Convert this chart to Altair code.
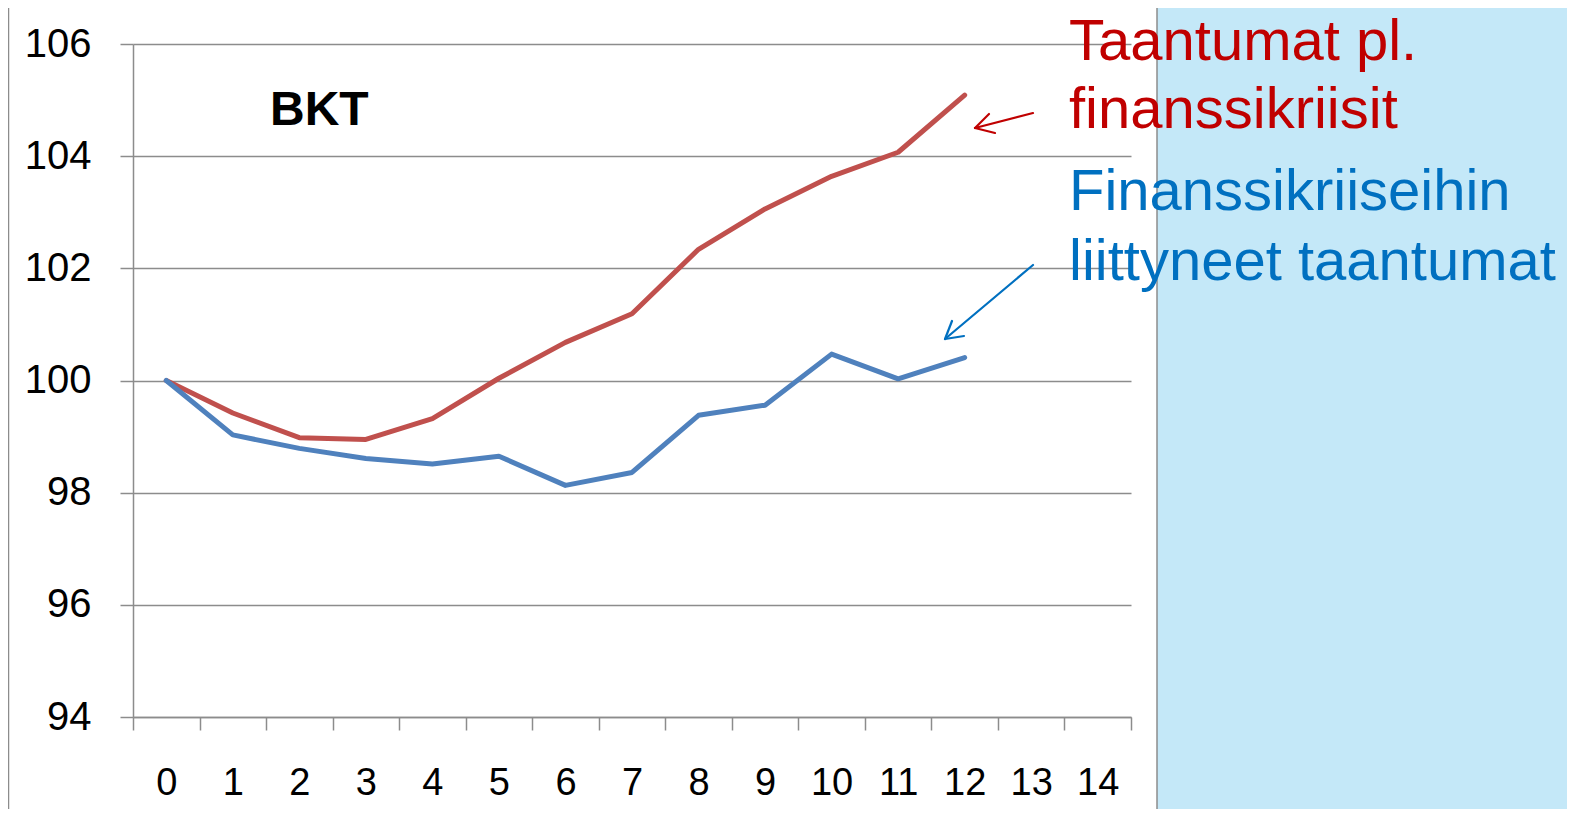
import altair as alt
import pandas as pd

# ---- data ----
periods = list(range(13))
all_periods = [str(i) for i in range(15)]
non_financial = [100, 99.42, 98.98, 98.95, 99.32, 100.04, 100.68, 101.19, 102.34, 103.06, 103.64, 104.07, 105.09]
financial = [100, 99.03, 98.79, 98.61, 98.51, 98.65, 98.13, 98.36, 99.38, 99.56, 100.47, 100.03, 100.41]
series_names = ["Taantumat pl. finanssikriisit", "Finanssikriiseihin liittyneet taantumat"]
series_colors = ["#C0504D", "#4F81BD"]
y_ticks = [94, 96, 98, 100, 102, 104, 106]
title_text = "BKT"
red_label = ["Taantumat pl.", "finanssikriisit"]
blue_label = ["Finanssikriiseihin", "liittyneet taantumat"]

rows = []
for p, v in zip(periods, non_financial):
    rows.append({"t": str(p), "value": v, "series": series_names[0]})
for p, v in zip(periods, financial):
    rows.append({"t": str(p), "value": v, "series": series_names[1]})
df = pd.DataFrame(rows)

W, H = 998, 673
GRID = "#8C8C8C"
FONT = "Liberation Sans"

lines = alt.Chart(df).mark_line(strokeWidth=5, strokeCap="round", strokeJoin="round").encode(
    x=alt.X("t:O", bandPosition=0.5,
            scale=alt.Scale(type="band", domain=all_periods, paddingInner=0, paddingOuter=0),
            axis=alt.Axis(title=None, labelAngle=0, tickBand="extent", tickSize=13,
                          labelFontSize=38, labelFont=FONT, labelColor="black",
                          labelPadding=34, tickColor=GRID, tickWidth=1.5,
                          domainColor=GRID, domainWidth=1.5, grid=False)),
    y=alt.Y("value:Q", scale=alt.Scale(domain=[94, 106], nice=False, zero=False),
            axis=alt.Axis(title=None, values=y_ticks, tickSize=13, labelFontSize=40,
                          labelFont=FONT, labelColor="black", labelPadding=29,
                          tickColor=GRID, tickWidth=1.5, domainColor=GRID, domainWidth=1.5,
                          grid=True, gridColor=GRID, gridWidth=1.5)),
    color=alt.Color("series:N", scale=alt.Scale(domain=series_names, range=series_colors), legend=None),
    detail="series:N",
)

one = pd.DataFrame({"k": [0]})

# light blue slide background on the right
bg = alt.Chart(one).mark_rect(color="#C4E8F8").encode(
    x=alt.value(1024), x2=alt.value(1440), y=alt.value(-40), y2=alt.value(770))
box_edge = alt.Chart(one).mark_rule(color="#8C8C8C", strokeWidth=1.5).encode(
    x=alt.value(1024), y=alt.value(-40), y2=alt.value(770))
left_edge = alt.Chart(one).mark_rule(color="#8C8C8C", strokeWidth=1.5).encode(
    x=alt.value(-124.5), y=alt.value(-40), y2=alt.value(770))

title = alt.Chart(one).mark_text(align="left", baseline="alphabetic", fontSize=48,
                                 fontWeight="bold", font=FONT, color="black").encode(
    x=alt.value(137), y=alt.value(81), text=alt.value(title_text))

red_txt = alt.Chart(one).mark_text(align="left", baseline="alphabetic", fontSize=58,
                                   font=FONT, color="#C00000", lineHeight=68).encode(
    x=alt.value(936), y=alt.value(16), text=alt.value(red_label))
blue_txt = alt.Chart(one).mark_text(align="left", baseline="alphabetic", fontSize=58,
                                    font=FONT, color="#0070C0", lineHeight=70).encode(
    x=alt.value(936), y=alt.value(166), text=alt.value(blue_label))

def seg(x1, y1, x2, y2, color):
    return alt.Chart(one).mark_rule(color=color, strokeWidth=2.2, strokeCap="round").encode(
        x=alt.value(x1), y=alt.value(y1), x2=alt.value(x2), y2=alt.value(y2))

arrows = [
    seg(900, 69, 842, 84, "#C00000"),
    seg(842, 84, 856, 70, "#C00000"),
    seg(842, 84, 862, 89, "#C00000"),
    seg(900, 221, 812, 295, "#0070C0"),
    seg(812, 295, 819, 277, "#0070C0"),
    seg(812, 295, 831, 292, "#0070C0"),
]

chart = alt.layer(bg, box_edge, left_edge, lines, title, red_txt, blue_txt, *arrows).properties(
    width=W, height=H,
    padding={"left": 125, "top": 36, "right": 436, "bottom": 92},
    autosize=alt.AutoSizeParams(type="none"),
    background="white",
).configure_view(stroke=None)

chart.save("out.html", embed_options={"renderer": "svg", "actions": False})
